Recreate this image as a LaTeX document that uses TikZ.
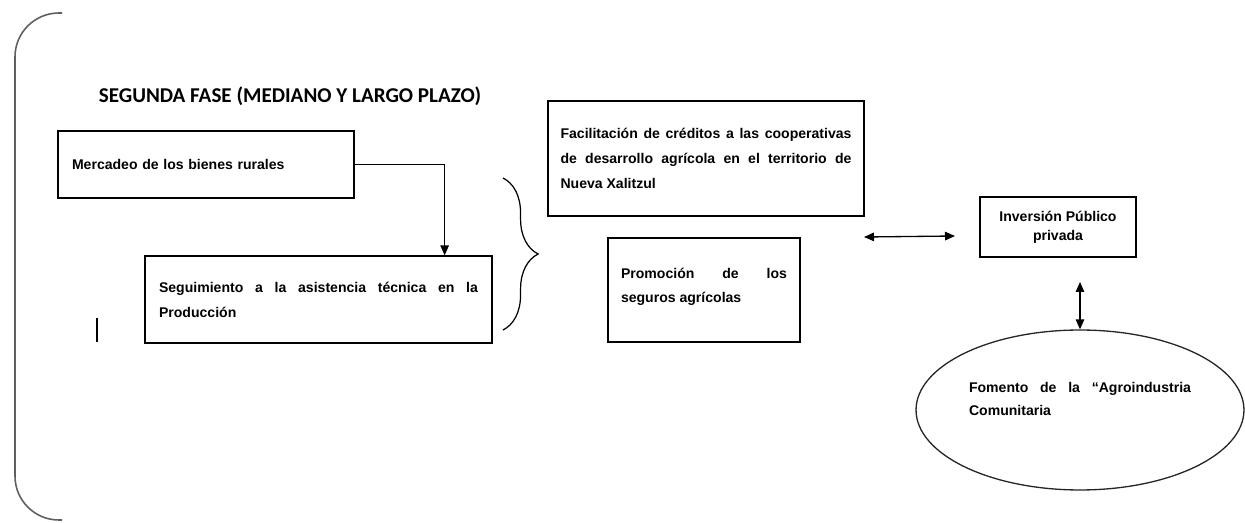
\documentclass[tikz,border=0pt]{standalone}
\usepackage{fontspec}
\setmainfont{Liberation Sans}
\newfontfamily\titlefont{Carlito}
\usepackage{xcolor}
\definecolor{bordegris}{RGB}{95,95,95}
\usetikzlibrary{arrows.meta,shapes.geometric,calc,decorations.pathreplacing}
\lefthyphenmin=62
\tikzset{
  box/.style={draw=black,line width=0.75pt,inner sep=0pt,font=\bfseries\fontsize{8}{14.2}\selectfont},
  oval/.style={draw=black!85,line width=0.75pt,ellipse,inner sep=0pt,align=justify,font=\bfseries\fontsize{8}{13.2}\selectfont},
  ttl/.style={font=\titlefont\bfseries\fontsize{12}{14}\selectfont},
  arr/.style={-{Triangle[length=2mm,width=1.7mm]},line width=0.75pt},
  dbl/.style={{Triangle[length=2mm,width=1.7mm]}-{Triangle[length=2mm,width=1.7mm]},line width=0.75pt},
  line/.style={draw=bordegris,line width=0.9pt},
}

\begin{document}
\begin{tikzpicture}[x=0.02cm,y=-0.02cm]
    \useasboundingbox (0,0) rectangle (1245,523);
    \draw[line,rounded corners=25pt] (62,13) -- (15,13) -- (15,520) -- (62,520);
    \node[ttl] (titulo) at (290,96) {SEGUNDA FASE (MEDIANO Y LARGO PLAZO)};
    \node[box,minimum width=5.92cm,minimum height=1.34cm,text width=5.36cm,align=left] (mercadeo) at (206,164.5) {Mercadeo de los bienes rurales};
    \node[box,minimum width=6.94cm,minimum height=1.74cm,text width=6.38cm,align=justify] (seguimiento) at (318.5,299.5) {Seguimiento a la asistencia técnica en la Producción};
    \node[box,minimum width=6.32cm,minimum height=2.3cm,text width=5.82cm,align=justify] (creditos) at (706,158.5) {Facilitación de créditos a las cooperativas de desarrollo agrícola en el territorio de Nueva Xalitzul};
    \node[box,minimum width=3.84cm,minimum height=2.08cm,text width=3.32cm,text depth=19.5pt,align=justify] (seguros) at (704,290) {Promoción de los seguros agrícolas};
    \node[box,minimum width=3.12cm,minimum height=1.2cm,align=center,font=\bfseries\fontsize{8}{10.8}\selectfont] (inversion) at (1058,227) {Inversión Público\\privada};
    \node[oval,minimum width=6.56cm,minimum height=3.2cm,text width=4.44cm,text depth=26pt] (fomento) at (1080,410) {Fomento de la “Agroindustria Comunitaria};
    \coordinate (h1) at (864,237);
    \coordinate (h2) at (955,236);
    \coordinate (v1) at (1080,282);
    \draw[arr] (mercadeo.east) -| ($(seguimiento.north east)+(-48,0)$);
    \draw[dbl] (h1) -- (h2);
    \draw[dbl] (v1) -- (fomento.north);
    \draw[decorate,decoration={brace,amplitude=20pt},line width=0.7pt] (503,178) -- (503,330);
    \draw[line width=1.4pt] (97,318) -- (97,342);
  \end{tikzpicture}
\end{document}
